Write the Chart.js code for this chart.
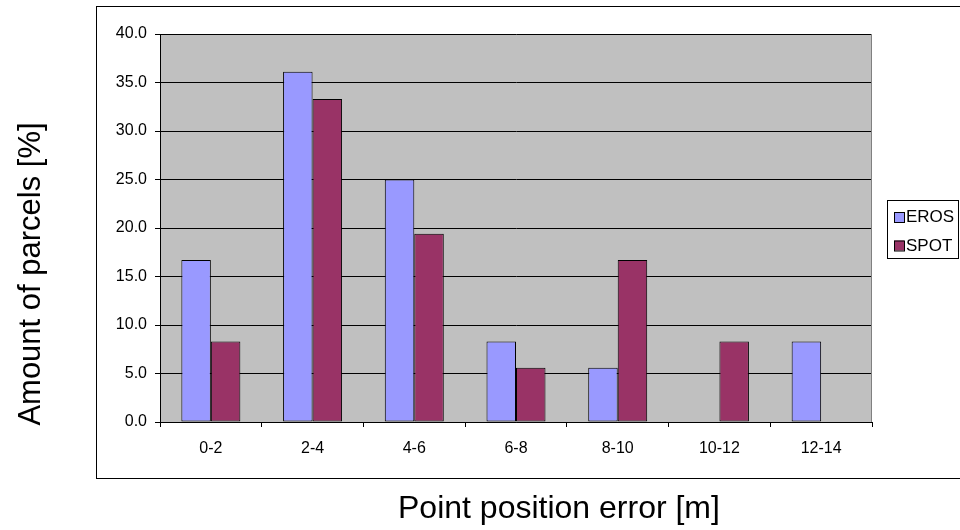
<!DOCTYPE html>
<html>
<head>
<meta charset="utf-8">
<script src="https://cdn.jsdelivr.net/npm/chart.js@4"></script>
<style>
  html, body { margin: 0; padding: 0; background: #fff; }
  #wrap { width: 960px; height: 530px; }
</style>
</head>
<body>
<div id="wrap"><canvas id="barCanvas" width="960" height="530"></canvas></div>
<script>
const categories = ["0-2", "2-4", "4-6", "6-8", "8-10", "10-12", "12-14"];
const erosValues = [16.7, 36.1, 25.0, 8.3, 5.6, 0, 8.3];
const spotValues = [8.3, 33.3, 19.4, 5.6, 16.7, 8.3, 0];
const xTitle = "Point position error [m]";
const yTitle = "Amount of parcels [%]";

const FONT = "'Liberation Sans', Arial, sans-serif";

// frame, grey plot background, titles and legend like the Excel original
const excelLook = {
    id: "excelLook",
    beforeDraw(chart) {
        const ctx = chart.ctx;
        const a = chart.chartArea;
        ctx.save();
        ctx.fillStyle = "#fff";
        ctx.fillRect(0, 0, chart.width, chart.height);
        ctx.strokeStyle = "#000";
        ctx.lineWidth = 1;
        ctx.strokeRect(96.5, 6.5, 1000, 472);
        ctx.fillStyle = "#C0C0C0";
        ctx.fillRect(a.left, a.top, a.right - a.left, a.bottom - a.top);
        ctx.restore();
    },
    afterDraw(chart) {
        const ctx = chart.ctx;
        const a = chart.chartArea;
        ctx.save();
        ctx.strokeStyle = "#808080";
        ctx.lineWidth = 1;
        ctx.beginPath();
        ctx.moveTo(Math.round(a.right) - 0.5, a.top);
        ctx.lineTo(Math.round(a.right) - 0.5, a.bottom);
        ctx.stroke();

        // axis titles
        ctx.fillStyle = "#000";
        ctx.font = "32px " + FONT;
        ctx.textAlign = "left";
        ctx.textBaseline = "alphabetic";
        ctx.fillText(xTitle, 398, 518);
        ctx.font = "31px " + FONT;
        ctx.translate(40, 274);
        ctx.rotate(-Math.PI / 2);
        ctx.textAlign = "center";
        ctx.fillText(yTitle, 0, 0);
        ctx.restore();

        // legend
        ctx.save();
        ctx.strokeStyle = "#000";
        ctx.lineWidth = 1;
        ctx.fillStyle = "#fff";
        ctx.fillRect(887, 200, 71, 58);
        ctx.strokeRect(887.5, 200.5, 71, 58);
        ctx.font = "17px " + FONT;
        ctx.textBaseline = "alphabetic";
        chart.data.datasets.forEach((ds, i) => {
            const y = 212 + i * 28.5;
            ctx.fillStyle = ds.backgroundColor;
            ctx.fillRect(894, y, 10, 10);
            ctx.strokeRect(894.5, y + 0.5, 10, 10);
            ctx.fillStyle = "#000";
            ctx.fillText(ds.label, 906, y + 10);
        });
        ctx.restore();
    }
};

const barCanvas = document.getElementById("barCanvas");

const barChart = new Chart(barCanvas, {
    type: "bar",
    data: {
        labels: categories,
        datasets: [{
            label: "EROS",
            data: erosValues,
            backgroundColor: "#9999FF",
            borderColor: "#000",
            borderWidth: 1,
            borderSkipped: false
        }, {
            label: "SPOT",
            data: spotValues,
            backgroundColor: "#993366",
            borderColor: "#000",
            borderWidth: 1,
            borderSkipped: false
        }]
    },
    options: {
        responsive: false,
        animation: false,
        events: [],
        layout: {
            padding: { left: 0, top: 34, right: 88, bottom: 0 }
        },
        datasets: {
            bar: {
                categoryPercentage: 0.58,
                barPercentage: 1
            }
        },
        plugins: {
            legend: { display: false },
            tooltip: { enabled: false }
        },
        scales: {
            x: {
                afterFit(scale) { scale.height = 108; },
                grid: {
                    display: true,
                    offset: true,
                    drawOnChartArea: false,
                    color: "#000",
                    tickLength: 5
                },
                border: { display: true, color: "#000", width: 1 },
                ticks: {
                    color: "#000",
                    padding: 12,
                    maxRotation: 0,
                    font: { family: FONT, size: 16 }
                }
            },
            y: {
                min: 0,
                max: 40,
                afterFit(scale) { scale.width = 160; },
                grid: {
                    color: "#000",
                    lineWidth: 1,
                    tickLength: 5
                },
                border: { display: true, color: "#000", width: 1 },
                ticks: {
                    stepSize: 5,
                    color: "#000",
                    padding: 8,
                    font: { family: FONT, size: 16 },
                    callback: (v) => Number(v).toFixed(1)
                }
            }
        }
    },
    plugins: [excelLook]
});
</script>
</body>
</html>
